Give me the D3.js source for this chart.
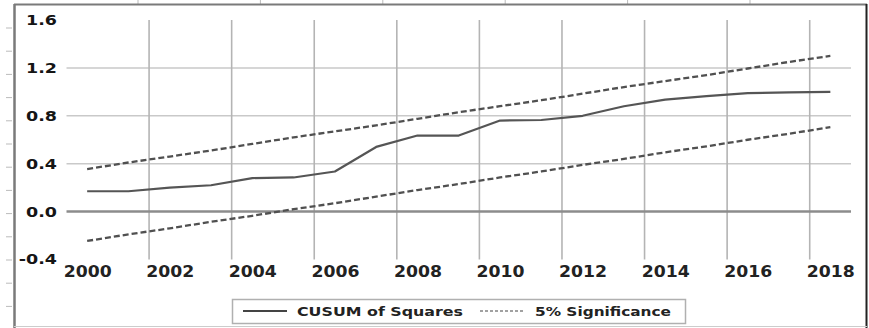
<!DOCTYPE html>
<html>
<head>
<meta charset="utf-8">
<script src="https://cdn.jsdelivr.net/npm/d3@7"></script>
<style>
	body { margin: 0; background: #fff; }
	svg { display: block; }
</style>
</head>
<body>
<div id="chart"></div>
<script>
const years = d3.range(2000, 2019)
const cusum = [0.17, 0.17, 0.20, 0.22, 0.28, 0.285, 0.335, 0.54, 0.635, 0.635,
	0.76, 0.765, 0.80, 0.88, 0.935, 0.965, 0.99, 0.995, 1.0]
const upper = [0.355, 0.41, 0.46, 0.51, 0.565, 0.62, 0.67, 0.72, 0.775, 0.83,
	0.88, 0.93, 0.985, 1.04, 1.09, 1.14, 1.195, 1.25, 1.30]
const lower = [-0.245, -0.19, -0.14, -0.085, -0.035, 0.02, 0.07, 0.125, 0.18, 0.23,
	0.285, 0.335, 0.39, 0.44, 0.495, 0.545, 0.60, 0.65, 0.705]
const yTicks = [-0.4, 0.0, 0.4, 0.8, 1.2, 1.6]
const xTicks = [2000, 2002, 2004, 2006, 2008, 2010, 2012, 2014, 2016, 2018]
const xGrid = [2001.5, 2003.5, 2005.5, 2007.5, 2009.5, 2011.5, 2013.5, 2015.5, 2017.5]
const legendLabels = ['CUSUM of Squares', '5% Significance']

const W = 869, H = 328
const font = "'DejaVu Sans', Verdana, sans-serif"

const svg = d3.select('#chart')
	.append('svg')
	.attr('width', W)
	.attr('height', H)

const x = d3.scaleLinear().domain([1999.5, 2018.5]).range([66.5, 851])
const y = d3.scaleLinear().domain([-0.4, 1.6]).range([259.5, 20])

// sheet ticks showing behind the frame
svg.append('g')
	.selectAll('line')
	.data(d3.range(6))
	.join('line')
	.attr('x1', d => 138 + d * 122.4).attr('x2', d => 138 + d * 122.4)
	.attr('y1', 0).attr('y2', 4)
	.attr('stroke', '#bbb')
svg.append('g')
	.selectAll('line')
	.data(d3.range(14))
	.join('line')
	.attr('x1', 6).attr('x2', 12)
	.attr('y1', d => 28 + d * 23.2).attr('y2', d => 28 + d * 23.2)
	.attr('stroke', '#bbb')

// frame
svg.append('line').attr('x1', 14).attr('x2', 867).attr('y1', 4.5).attr('y2', 4.5)
	.attr('stroke', '#7a7a7a').attr('stroke-width', 2)
svg.append('line').attr('x1', 14.5).attr('x2', 14.5).attr('y1', 4).attr('y2', H)
	.attr('stroke', '#7a7a7a').attr('stroke-width', 2.5)
svg.append('line').attr('x1', 866.5).attr('x2', 866.5).attr('y1', 4).attr('y2', H)
	.attr('stroke', '#222').attr('stroke-width', 2)
svg.append('line').attr('x1', 14).attr('x2', 867).attr('y1', 326.5).attr('y2', 326.5)
	.attr('stroke', '#ccc').attr('stroke-width', 1)

// grid
svg.append('g')
	.selectAll('line')
	.data([0.4, 0.8, 1.2])
	.join('line')
	.attr('x1', x.range()[0]).attr('x2', x.range()[1])
	.attr('y1', d => y(d)).attr('y2', d => y(d))
	.attr('stroke', '#c9c9c9').attr('stroke-width', 1.5)

svg.append('g')
	.selectAll('line')
	.data(xGrid)
	.join('line')
	.attr('x1', d => x(d)).attr('x2', d => x(d))
	.attr('y1', y(1.6)).attr('y2', y(-0.4))
	.attr('stroke', '#b4b4b4').attr('stroke-width', 1.6)

svg.append('line')
	.attr('x1', x.range()[0]).attr('x2', x.range()[1])
	.attr('y1', y(0)).attr('y2', y(0))
	.attr('stroke', '#8c8c8c').attr('stroke-width', 2.5)

// axes
const yAxis = d3.axisLeft(y)
	.tickValues(yTicks)
	.tickSize(0)
	.tickPadding(0)
	.tickFormat(d => d.toFixed(1))

svg.append('g')
	.attr('transform', 'translate(57,0)')
	.call(yAxis)
	.call(g => g.select('.domain').remove())
	.selectAll('text')
	.attr('font-family', font)
	.attr('font-size', 14)
	.attr('font-weight', 'bold')
	.attr('fill', '#151515')
	.attr('transform', 'scale(1.25,1)')

const xAxis = d3.axisBottom(x)
	.tickValues(xTicks)
	.tickSize(0)
	.tickPadding(7)
	.tickFormat(d3.format('d'))

svg.append('g')
	.attr('transform', `translate(0,${y(-0.4)})`)
	.call(xAxis)
	.call(g => g.select('.domain').remove())
	.selectAll('text')
	.attr('font-family', font)
	.attr('font-size', 15)
	.attr('font-weight', 'bold')
	.attr('fill', '#222')
	.attr('transform', 'scale(1.15,1)')

// lines
const line = d3.line()
	.x((d, i) => x(years[i]))
	.y(d => y(d))

svg.selectAll('.bound')
	.data([upper, lower])
	.join('path')
	.attr('class', 'bound')
	.attr('fill', 'none')
	.attr('stroke', '#505050')
	.attr('stroke-width', 2.3)
	.attr('stroke-dasharray', '6,3')
	.attr('d', line)

svg.append('path')
	.datum(cusum)
	.attr('fill', 'none')
	.attr('stroke', '#555')
	.attr('stroke-width', 2.2)
	.attr('stroke-linejoin', 'round')
	.attr('d', line)

// legend
const legend = svg.append('g')
legend.append('rect')
	.attr('x', 232.5).attr('y', 299.5)
	.attr('width', 453).attr('height', 24)
	.attr('fill', '#fff')
	.attr('stroke', '#b0b0b0')
	.attr('stroke-width', 1.5)

legend.append('line')
	.attr('x1', 243).attr('x2', 287).attr('y1', 311).attr('y2', 311)
	.attr('stroke', '#444').attr('stroke-width', 1.8)
legend.append('line')
	.attr('x1', 480).attr('x2', 525).attr('y1', 311).attr('y2', 311)
	.attr('stroke', '#444').attr('stroke-width', 1.2)
	.attr('stroke-dasharray', '3,2')

legend.selectAll('text')
	.data(legendLabels)
	.join('text')
	.attr('x', (d, i) => i === 0 ? 297 : 535)
	.attr('y', 315.5)
	.attr('font-family', font)
	.attr('font-size', 13)
	.attr('font-weight', 'bold')
	.attr('fill', '#222')
	.attr('textLength', (d, i) => i === 0 ? 166 : 136)
	.attr('lengthAdjust', 'spacingAndGlyphs')
	.text(d => d)
</script>
</body>
</html>
